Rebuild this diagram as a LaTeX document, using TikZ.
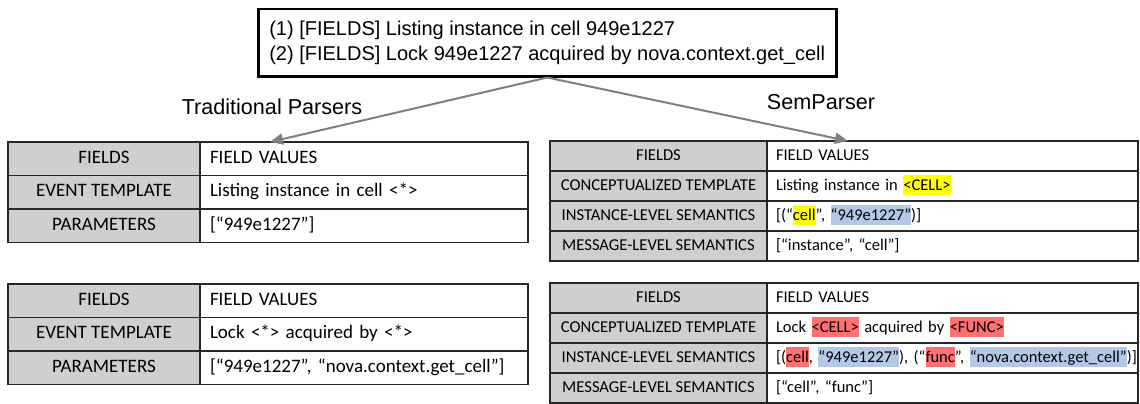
\documentclass[tikz,border=0pt]{standalone}
\usepackage{fontspec}
\setmainfont{Carlito}
\newfontfamily\arialfont{Liberation Sans}
\usepackage{xcolor}
\usetikzlibrary{positioning,arrows.meta}

\definecolor{cellgray}{HTML}{D0CECE}
\definecolor{hlyellow}{HTML}{FFFF00}
\definecolor{hlred}{HTML}{FF7070}
\definecolor{hlblue}{HTML}{B4C7E7}
\definecolor{flowgray}{HTML}{7F7F7F}
\newcommand{\hlbox}[2]{{\setlength{\fboxsep}{0pt}\colorbox{#1}{\rule[-5pt]{0pt}{20.5pt}#2}}}

\tikzset{
  cell/.style={draw=black!85, line width=1.3pt, outer sep=0pt, inner ysep=0pt},
  tfield/.style={cell, fill=cellgray, minimum width=192pt, minimum height=33.5pt,
    text height=13pt, text depth=4pt, font=\fontsize{19}{23}\selectfont},
  tvalue/.style={cell, fill=white, text width=308pt, inner xsep=10pt, align=left,
    minimum height=33.5pt, text height=13pt, text depth=4pt, font=\fontsize{19}{23}\selectfont},
  sfield/.style={cell, fill=cellgray, minimum width=217pt, minimum height=30pt,
    text height=11.5pt, text depth=3.5pt, font=\fontsize{16.6}{20}\selectfont},
  svalue/.style={cell, fill=white, text width=353pt, inner xsep=9pt, align=left,
    minimum height=30pt, text height=11.5pt, text depth=3.5pt, font=\fontsize{16.5}{20}\selectfont},
  parser/.style={font=\arialfont\fontsize{21.6}{26}\selectfont},
  logbox/.style={draw, line width=2.5pt, minimum width=578pt, align=left,
    minimum height=67pt, font=\arialfont\fontsize{20}{25}\selectfont},
  flow/.style={draw=flowgray, line width=2pt, -{Triangle[length=13pt,width=11pt]}}
}

\begin{document}
\begin{tikzpicture}[x=1pt,y=-1pt]
\useasboundingbox (0,0) rectangle (1140,404);

% raw log messages
\node[logbox, anchor=north west] (log) at (257,8)
  {(1) [FIELDS] Listing instance in cell 949e1227\\
   (2) [FIELDS] Lock 949e1227 acquired by nova.context.get\_cell};

\node[parser] (trad) at (272,107) {Traditional Parsers};
\node[parser] (sem) at (821,102) {SemParser};

% traditional parsers
\node[tfield, anchor=north west] (tf1) at (8,142) {FIELDS};
\node[tvalue, right=0pt of tf1] (tv1) {FIELD VALUES};
\node[tfield, below=0pt of tf1] (tf2) {EVENT TEMPLATE};
\node[tvalue, right=0pt of tf2] (tv2) {Listing instance in cell <*>};
\node[tfield, below=0pt of tf2] (tf3) {PARAMETERS};
\node[tvalue, right=0pt of tf3] (tv3) {[“949e1227”]};

\node[tfield, anchor=north west] (tg1) at (8,284) {FIELDS};
\node[tvalue, right=0pt of tg1] (tw1) {FIELD VALUES};
\node[tfield, below=0pt of tg1] (tg2) {EVENT TEMPLATE};
\node[tvalue, right=0pt of tg2] (tw2) {Lock <*> acquired by <*>};
\node[tfield, below=0pt of tg2] (tg3) {PARAMETERS};
\node[tvalue, right=0pt of tg3] (tw3) {[“949e1227”, “nova.context.get\_cell”]};

% semparser
\node[sfield, anchor=north west] (sf1) at (550,141) {FIELDS};
\node[svalue, right=0pt of sf1] (sv1) {FIELD VALUES};
\node[sfield, below=0pt of sf1] (sf2) {CONCEPTUALIZED TEMPLATE};
\node[svalue, right=0pt of sf2] (sv2) {Listing instance in \hlbox{hlyellow}{<CELL>}};
\node[sfield, below=0pt of sf2] (sf3) {INSTANCE-LEVEL SEMANTICS};
\node[svalue, right=0pt of sf3] (sv3) {[(“\hlbox{hlyellow}{cell}”, \hlbox{hlblue}{“949e1227”})]};
\node[sfield, below=0pt of sf3] (sf4) {MESSAGE-LEVEL SEMANTICS};
\node[svalue, right=0pt of sf4] (sv4) {[“instance”, “cell”]};

\node[sfield, anchor=north west] (sg1) at (550,283) {FIELDS};
\node[svalue, right=0pt of sg1] (sw1) {FIELD VALUES};
\node[sfield, below=0pt of sg1] (sg2) {CONCEPTUALIZED TEMPLATE};
\node[svalue, right=0pt of sg2] (sw2) {Lock \hlbox{hlred}{<CELL>} acquired by \hlbox{hlred}{<FUNC>}};
\node[sfield, below=0pt of sg2] (sg3) {INSTANCE-LEVEL SEMANTICS};
\node[svalue, right=0pt of sg3] (sw3) {\mbox{[(\hlbox{hlred}{cell}, \hlbox{hlblue}{“949e1227”}), (“\hlbox{hlred}{func}”, \hlbox{hlblue}{“nova.context.get\_cell”})]}};
\node[sfield, below=0pt of sg3] (sg4) {MESSAGE-LEVEL SEMANTICS};
\node[svalue, right=0pt of sg4] (sw4) {[“cell”, “func”]};

\draw[flow] (log.south) -- ([xshift=70pt]tv1.north west);
\draw[flow] (log.south) -- ([xshift=81pt]sv1.north west);
\end{tikzpicture}
\end{document}
